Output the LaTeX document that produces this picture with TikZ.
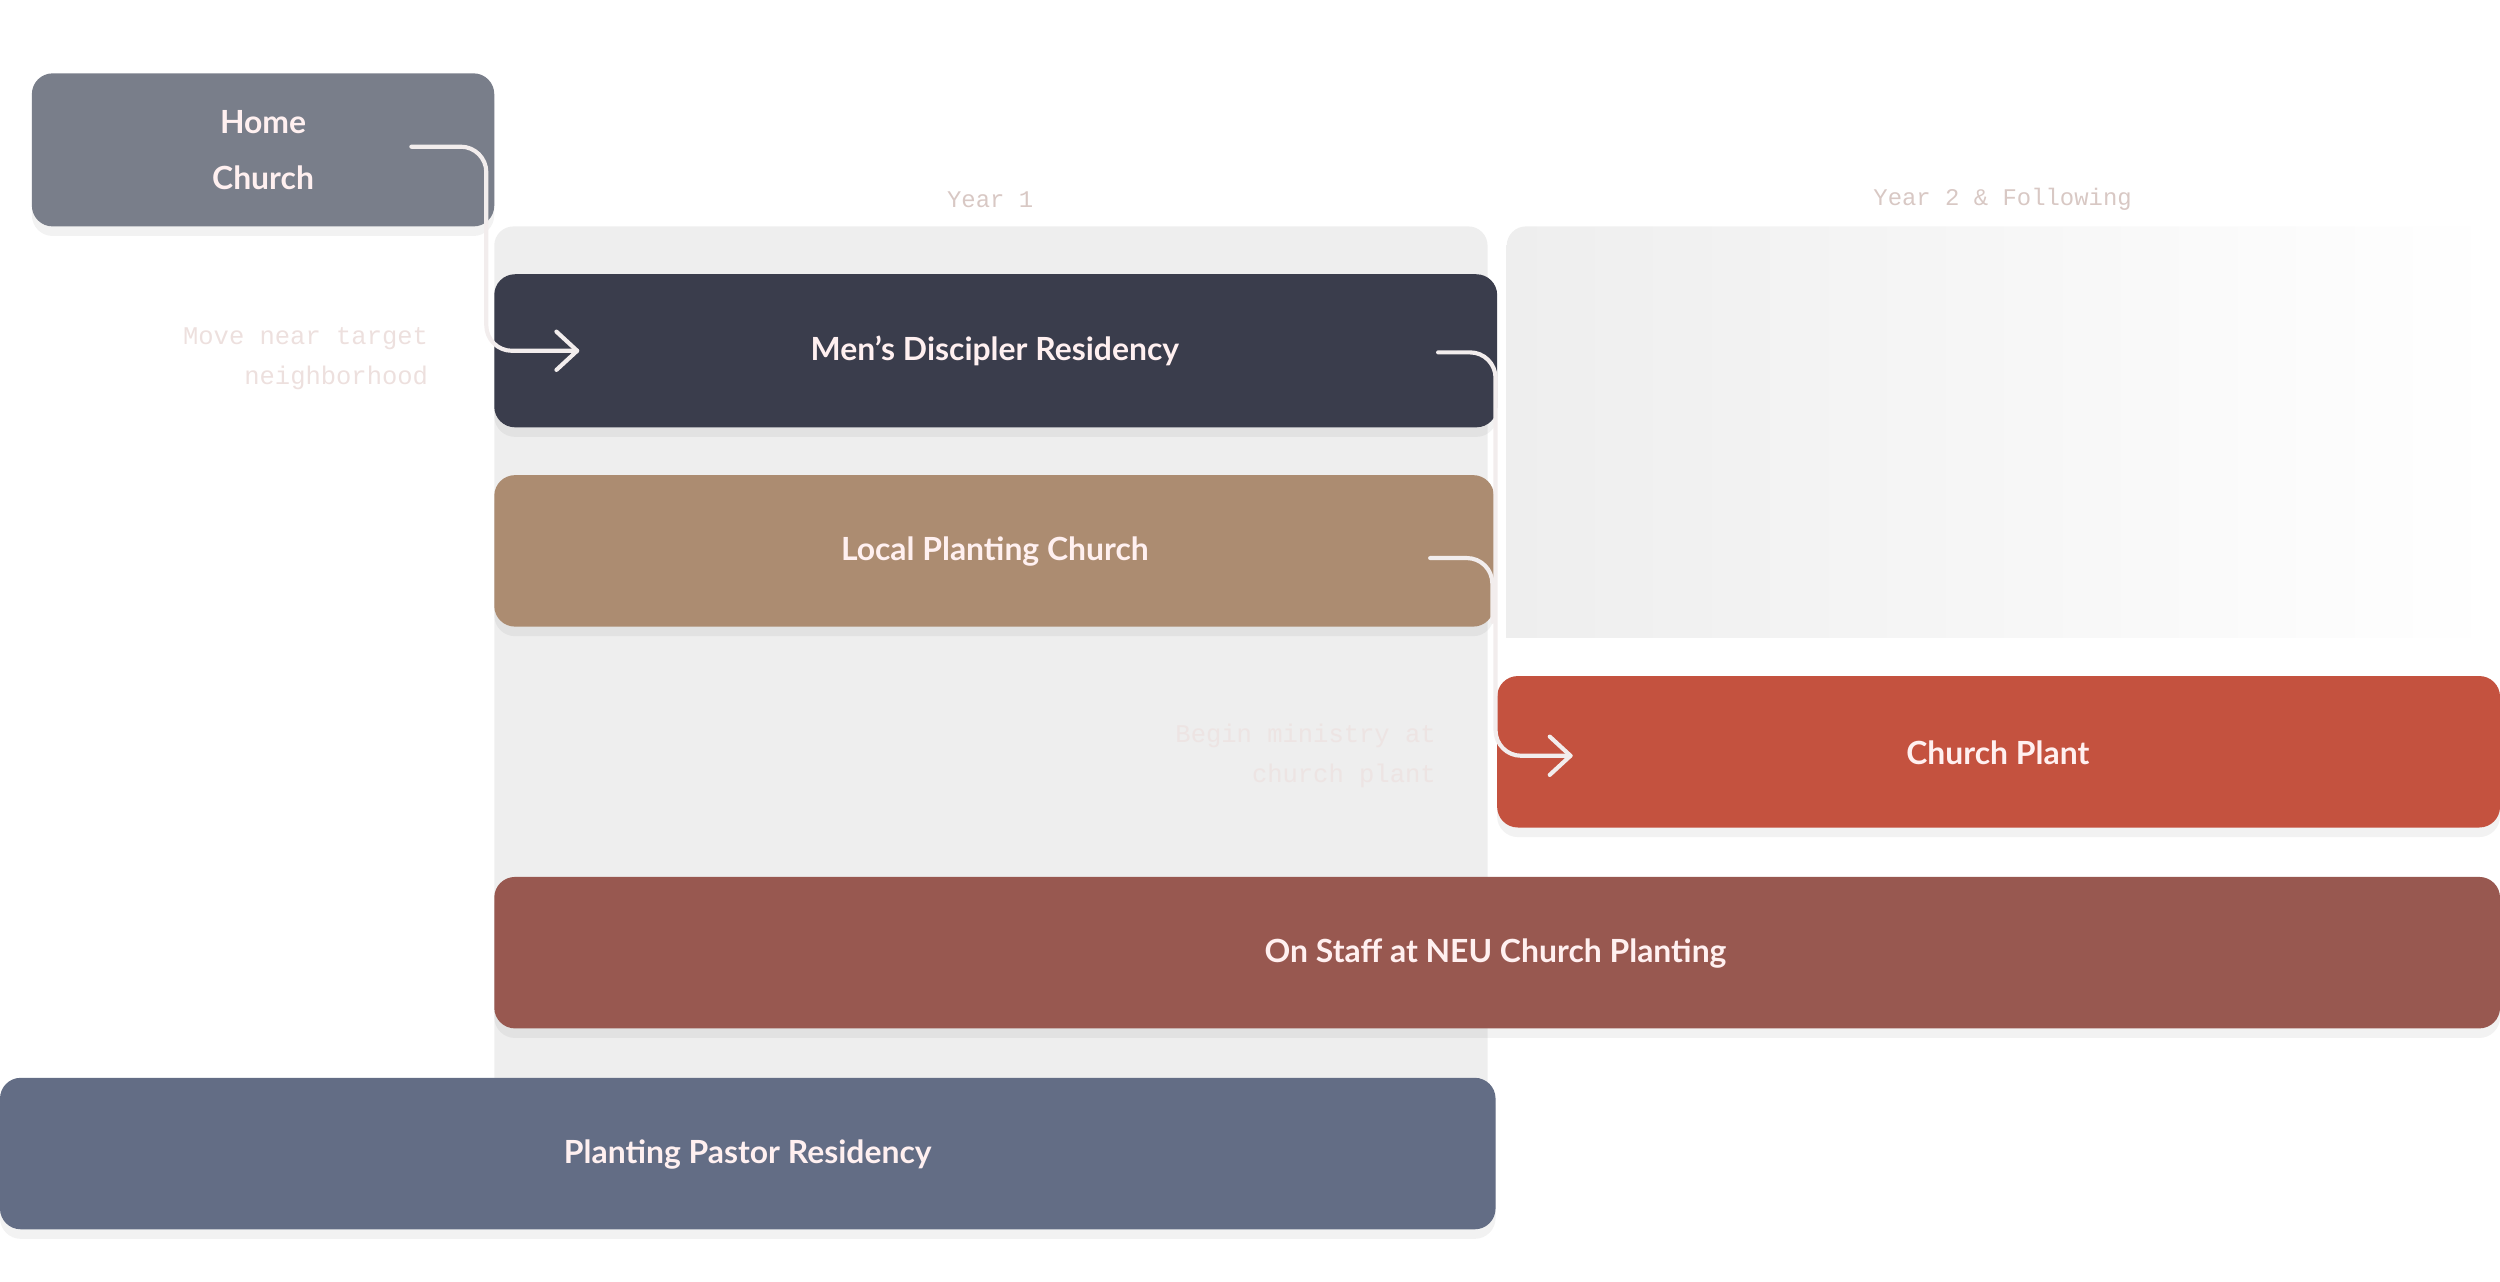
\documentclass[tikz,border=0pt]{standalone}
\usepackage{fontspec}
\setmainfont{Lato}
\newfontfamily\monof{Liberation Mono}
\usetikzlibrary{shadows,arrows.meta,fadings}
\definecolor{homec}{HTML}{797E8A}
\definecolor{mensc}{HTML}{3A3D4C}
\definecolor{localc}{HTML}{AC8C71}
\definecolor{plantc}{HTML}{C4523F}
\definecolor{staffc}{HTML}{985850}
\definecolor{pastorc}{HTML}{636D85}
\definecolor{panelc}{HTML}{EEEEEE}
\definecolor{yearc}{HTML}{D8C8C4}
\definecolor{notec}{HTML}{EDE0DE}
\definecolor{arrc}{HTML}{F2EDED}
\tikzset{
  bar/.style={rounded corners=13pt, drop shadow={opacity=0.10,shadow xshift=0pt,shadow yshift=-6pt}},
  lbl/.style={text=white!94!red, font=\fontsize{20}{24}\selectfont\bfseries, align=center},
  yr/.style={text=yearc, font=\monof\fontsize{15}{18}\selectfont},
  note/.style={text=notec, font=\monof\fontsize{16}{25}\selectfont, align=right, anchor=east},
  flow/.style={draw=arrc, line width=2.6pt, line cap=round, rounded corners=16pt},
}
\begin{document}
\begin{tikzpicture}[x=1pt,y=-1pt]
\useasboundingbox (0,0) rectangle (1568,804);
% panels
\fill[panelc, rounded corners=12pt] (310,142) rectangle (933,700);
\shade[left color=panelc, right color=white, rounded corners=12pt] (945,142) rectangle (1568,700);
\fill[white] (933,400) rectangle (1568,804);
\node[yr] (y1) at (621,125) {Year 1};
\node[yr] (y2) at (1256,125) {Year 2 \& Following};
% bars
\path[bar, fill=homec] (20,46) rectangle (310,142);
\node[lbl, font=\fontsize{20}{35}\selectfont\bfseries] (home) at (165,94) {Home\\Church};
\path[bar, fill=mensc] (310,172) rectangle (939,268);
\node[lbl] (mens) at (624,220) {Men’s Discipler Residency};
\path[bar, fill=localc] (310,298) rectangle (937,393);
\node[lbl] (local) at (624,346) {Local Planting Church};
\path[bar, fill=plantc] (939,424) rectangle (1568,519);
\node[lbl] (plant) at (1253,472) {Church Plant};
\path[bar, fill=staffc] (310,550) rectangle (1568,645);
\node[lbl] (staff) at (938,598) {On Staff at NEU Church Planting};
\path[bar, fill=pastorc] (0,676) rectangle (938,771);
\node[lbl] (pastor) at (469,724) {Planting Pastor Residency};
% notes
\node[note] (n1) at (272,225) {Move near target\\neighborhood};
\node[note, text=notec!70!panelc] (n2) at (904,474) {Begin ministry at\\church plant};
% flows
\coordinate (a0) at (258,92);
\coordinate (a1) at (362,220);
\draw[flow] (a0) -- (305,92) -- (305,220) -- (a1);
\draw[draw=arrc, line width=2.6pt, line cap=round, line join=round] (349,208) -- (a1) -- (349,232);
\coordinate (b0) at (902,221);
\coordinate (b1) at (985,474);
\draw[flow] (b0) -- (938,221) -- (938,474) -- (b1);
\draw[draw=arrc, line width=2.6pt, line cap=round, line join=round] (972,462) -- (b1) -- (972,486);
\coordinate (c0) at (897,350);
\draw[flow] (c0) -- (936,350) -- (936,390);
\end{tikzpicture}
\end{document}
